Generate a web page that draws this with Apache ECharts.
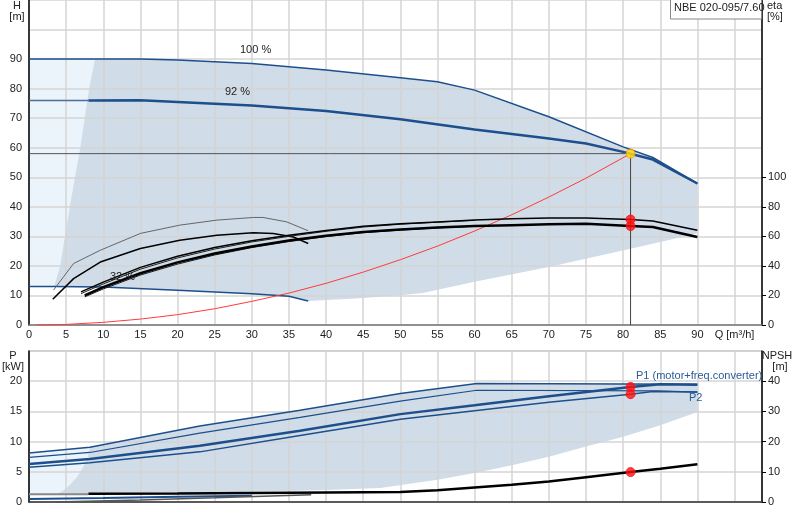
<!DOCTYPE html>
<html style="height: 100%">
<head>
<meta charset="utf-8" />
<title>NBE 020-095/7.60</title>
<script type="text/javascript" src="https://cdn.jsdelivr.net/npm/echarts@6/dist/echarts.min.js"></script>
</head>
<body style="height: 100%; margin: 0; background: #fff;">
<div id="container" style="width: 800px; height: 520px;"></div>
<script type="text/javascript">
// ---- tick labels
var qTicks = [0, 5, 10, 15, 20, 25, 30, 35, 40, 45, 50, 55, 60, 65, 70, 75, 80, 85, 90, 95];
var hTicks = [0, 10, 20, 30, 40, 50, 60, 70, 80, 90];
var etaTicks = [0, 20, 40, 60, 80, 100];
var pTicks = [0, 5, 10, 15, 20];
var npshTicks = [0, 10, 20, 30, 40];

// ---- top chart, head curves [Q, H]
var head100 = [[0, 90], [8.9, 90], [15, 90], [20, 89.7], [30, 88.5], [40, 86.3], [50, 83.7], [55, 82.3], [60, 79.5], [70, 70.5], [80, 60.3], [84, 56.7], [90, 47.9]];
var head92Low = [[0, 76], [8, 76]];
var head92 = [[8, 76], [15, 76.1], [30, 74.3], [40, 72.4], [50, 69.6], [60, 66.2], [70, 63.1], [75, 61.4], [80, 58.6], [84, 56.0], [90, 47.9]];
var headMin = [[0, 13], [3.4, 13], [10, 12.9], [20, 11.8], [30, 10.6], [35, 9.7], [37.6, 8.1]];
var sysCurve = [[1, 0], [5, 0.2], [10, 0.9], [15, 2], [20, 3.5], [25, 5.5], [30, 8], [35, 10.8], [40, 14.1], [45, 17.9], [50, 22.1], [55, 26.7], [60, 31.8], [65, 37.3], [70, 43.3], [75, 49.7], [81, 58]];
var dutyH = [[0, 58], [81, 58]];
var dutyQ = [[81, 58], [81, 0]];
var dutyPoint = [[81, 58]];

// operating range [Q, H]
var rangeLight = [[0, 13], [9, 13], [9, 90], [0, 90]];
var rangeDark = [[8.9, 90], [15, 90], [20, 89.7], [30, 88.5], [40, 86.3], [50, 83.7], [55, 82.3], [60, 79.5], [70, 70.5], [80, 60.3], [84, 56.7], [90, 47.9],
  [90, 31], [81, 25.8], [70, 19.6], [60, 14.6], [53, 10.8], [50, 10.1], [44, 9.0], [37.6, 8.1],
  [35, 9.7], [30, 10.6], [20, 11.8], [10, 12.9], [3.4, 13],
  [4.2, 20], [4.85, 30], [5.5, 40], [6.2, 50], [6.9, 60], [7.5, 70], [8.1, 80]];

// efficiency curves [Q, eta %]
var etaA = [[3.3, 23.6], [6, 41.6], [9.6, 50.6], [15, 62], [20.3, 67.6], [25.3, 71], [30.2, 72.8], [31.5, 72.8], [34.7, 69.8], [37.6, 63.8]];
var etaB = [[3.2, 17.4], [6, 31.4], [9.6, 42.6], [15, 51.8], [20.3, 57.4], [25.3, 60.8], [30.2, 62.4], [32.9, 62], [35.6, 59.6], [37.6, 55.2]];
var etaUp1 = [[7, 22.4], [10, 29], [15, 39], [20, 46.6], [25, 52.4], [30, 57], [35, 60.8], [40, 64], [45, 66.8], [50, 68.6], [55, 69.8], [60, 71], [65, 72], [70, 72.4], [75, 72.4], [81, 71.4], [84, 70.4], [90, 64.2]];
var etaUp2 = [[7, 21.2], [10, 27.8], [15, 37.8], [20, 45.4], [25, 51.4], [30, 56.2], [35, 60], [40, 63.4], [45, 66.3], [50, 68.2], [55, 69.6], [60, 70.8]];
var etaLo1 = [[7.5, 20], [10, 25.6], [15, 35], [20, 42.4], [25, 48.4], [30, 53.2], [35, 57.2], [40, 60.4], [45, 63], [50, 64.6], [55, 66], [60, 67], [65, 67.6], [70, 68.2], [75, 68.6], [81, 67], [84, 66.4], [90, 59.6]];
var etaLo2 = [[7.5, 19], [10, 24.4], [15, 33.8], [20, 41.2], [25, 47.4], [30, 52.4], [35, 56.5], [40, 59.8], [45, 62.5], [50, 64.2], [55, 65.7], [60, 66.8]];
var etaDuty = [[81, 71.4], [81, 67]];

// ---- bottom chart, power [Q, P kW]
var pMax1 = [[0, 8.1], [8.2, 9.06], [23, 12.6], [36.5, 15.2], [50, 17.96], [60.3, 19.6], [90, 19.5]];
var pMax2 = [[0, 7.4], [8.2, 8.2], [23, 11.4], [36.5, 14.0], [50, 16.7], [60.3, 18.5], [84.5, 18.4], [90, 18.2]];
var p1 = [[0, 6.3], [8.2, 7.13], [23, 9.3], [36.5, 11.8], [50, 14.55], [60, 16.0], [70, 17.5], [81, 19.05], [85, 19.5], [90, 19.4]];
var p2 = [[0, 5.77], [8.2, 6.5], [23, 8.3], [36.5, 11.0], [50, 13.7], [60, 15.1], [70, 16.5], [81, 17.85], [84, 18.3], [90, 18.2]];
var pLowGrey = [[0, 1.3], [8, 1.3]];
var pLowBlue = [[0, 0.5], [10, 0.65], [20, 0.85], [30, 1.05]];
var pLowDark = [[3.5, 0], [15, 0.35], [25, 0.7], [38, 1.2]];
var pDuty = [[81, 19.05], [81, 17.85]];
var pLight = [[0, 1.3], [8.2, 1.3], [8.2, 9.06], [0, 8.1]];
var pDark = [[8.2, 9.06], [23, 12.6], [36.5, 15.2], [50, 17.96], [60.3, 19.6], [90, 19.5],
  [90, 14.9], [85, 12.7], [80, 10.8], [75, 9.2], [70, 7.5], [65, 6.1], [60, 4.8], [55, 3.7], [47.3, 2.3], [40, 2.0], [30, 1.7], [20, 1.45], [10, 1.3], [3.7, 1.3],
  [4.5, 1.8], [5.5, 2.8], [6.5, 4.2], [7.3, 5.8], [7.9, 7.3]];

// NPSH [Q, m]
var npsh = [[8, 2.7], [20, 2.85], [30, 3.0], [40, 3.15], [50, 3.3], [55, 3.9], [60, 4.8], [65, 5.7], [70, 6.8], [75, 8.2], [81, 9.9], [85, 11.0], [90, 12.5]];
var npshDuty = [[81, 9.9]];

var BLUE = '#1d4f8c';
var FONT = 'Liberation Sans, Arial, sans-serif';

function poly(pts, color, xi, yi) {
  return {
    type: 'custom', xAxisIndex: xi, yAxisIndex: yi, z: -1, silent: true, data: [[0, 0]],
    renderItem: function (params, api) {
      return { type: 'polygon', shape: { points: pts.map(function (p) { return api.coord(p); }) }, style: { fill: color } };
    }
  };
}
function line(data, color, width, xi, yi) {
  return { type: 'line', data: data, xAxisIndex: xi, yAxisIndex: yi, showSymbol: false, silent: true,
    lineStyle: { color: color, width: width }, animation: false };
}
function dots(data, color, xi, yi, border) {
  return { type: 'scatter', data: data, xAxisIndex: xi, yAxisIndex: yi, symbolSize: 9, silent: true, z: 5,
    itemStyle: { color: color, borderColor: border || color, borderWidth: 1 } };
}
function txt(s, x, y, align, color) {
  return { type: 'text', z: 11, style: { text: s, x: x, y: y, align: align || 'left', verticalAlign: 'middle',
    fontSize: 11, fill: color || '#222', fontFamily: FONT } };
}

var gridLine = { show: true, lineStyle: { color: '#d4d4d4', width: 1.5 } };
var labelStyle = { color: '#222', fontSize: 11, fontFamily: FONT };

var myChart = echarts.init(document.getElementById('container'), null, { renderer: 'canvas' });
var option = {
  animation: false,
  grid: [
    { left: 29, right: 38, top: 0, bottom: 195 },
    { left: 29, right: 38, top: 351, bottom: 18, show: true, borderColor: '#999', borderWidth: 1 }
  ],
  xAxis: [
    { type: 'value', gridIndex: 0, min: 0, max: 98.7, interval: 5,
      axisLine: { lineStyle: { color: '#777', width: 1.5 } }, axisTick: { show: false },
      splitLine: gridLine,
      axisLabel: Object.assign({ margin: 4, customValues: qTicks,
        formatter: function (v) { return v === 95 ? 'Q [m³/h]' : String(v); } }, labelStyle) },
    { type: 'value', gridIndex: 1, min: 0, max: 98.7, interval: 5,
      axisLine: { lineStyle: { color: '#333', width: 1.5 } }, axisTick: { show: false },
      splitLine: gridLine, axisLabel: { show: false } }
  ],
  yAxis: [
    { type: 'value', gridIndex: 0, min: 0, max: 110, interval: 10,
      axisLine: { show: true, lineStyle: { color: '#000', width: 1.5 } }, axisTick: { show: false },
      splitLine: gridLine, axisLabel: Object.assign({ margin: 7, customValues: hTicks }, labelStyle) },
    { type: 'value', gridIndex: 0, min: 0, max: 220, interval: 20, position: 'right',
      axisLine: { show: true, lineStyle: { color: '#000', width: 1.5 } },
      axisTick: { show: true, length: 4, customValues: etaTicks, lineStyle: { color: '#000' } },
      splitLine: { show: false }, axisLabel: Object.assign({ margin: 6, customValues: etaTicks }, labelStyle) },
    { type: 'value', gridIndex: 1, min: 0, max: 25, interval: 5,
      axisLine: { show: true, lineStyle: { color: '#000', width: 1.5 } }, axisTick: { show: false },
      splitLine: gridLine, axisLabel: Object.assign({ margin: 7, customValues: pTicks }, labelStyle) },
    { type: 'value', gridIndex: 1, min: 0, max: 50, interval: 10, position: 'right',
      axisLine: { show: true, lineStyle: { color: '#000', width: 1.5 } },
      axisTick: { show: true, length: 4, customValues: npshTicks, lineStyle: { color: '#000' } },
      splitLine: { show: false }, axisLabel: Object.assign({ margin: 6, customValues: npshTicks }, labelStyle) }
  ],
  series: [
    poly(rangeLight, '#ebf3fb', 0, 0),
    poly(rangeDark, '#d0dce7', 0, 0),
    line(head100, BLUE, 1.5, 0, 0),
    line(head92Low, '#4a6f9c', 1.5, 0, 0),
    line(head92, BLUE, 2.5, 0, 0),
    line(headMin, BLUE, 1.5, 0, 0),
    line(dutyH, '#555', 1, 0, 0),
    line(dutyQ, '#444', 1, 0, 0),
    line(sysCurve, '#ff3b3b', 1, 0, 0),
    line(etaA, '#666', 1, 0, 1),
    line(etaB, '#000', 1.5, 0, 1),
    line(etaUp2, '#222', 1, 0, 1),
    line(etaUp1, '#000', 1.5, 0, 1),
    line(etaLo2, '#222', 1, 0, 1),
    line(etaLo1, '#000', 2.5, 0, 1),
    dots(etaDuty, '#ff1010', 0, 1),
    dots(dutyPoint, '#ffe000', 0, 0, '#ff8c00'),

    poly(pLight, '#ebf3fb', 1, 2),
    poly(pDark, '#d0dce7', 1, 2),
    line(pMax1, BLUE, 1.5, 1, 2),
    line(pMax2, BLUE, 1.2, 1, 2),
    line(p1, BLUE, 2.5, 1, 2),
    line(p2, BLUE, 1.5, 1, 2),
    line(pLowGrey, '#888', 2, 1, 2),
    line(pLowBlue, BLUE, 2, 1, 2),
    line(pLowDark, '#555', 1.5, 1, 2),
    line(npsh, '#000', 2.5, 1, 3),
    dots(pDuty, '#ff1010', 1, 2),
    dots(npshDuty, '#ff1010', 1, 3)
  ],
  graphic: [
    txt('H', 17, 6, 'center'),
    txt('[m]', 17, 17, 'center'),
    txt('eta', 767, 6),
    txt('[%]', 767, 17),
    txt('P', 13, 356, 'center'),
    txt('[kW]', 13, 367, 'center'),
    txt('NPSH', 777, 356, 'center'),
    txt('[m]', 780, 367, 'center'),
    { type: 'rect', z: 10, shape: { x: 670.5, y: -1, width: 91, height: 20 }, style: { fill: '#fff', stroke: '#888', lineWidth: 1 } },
    txt('NBE 020-095/7.60', 674, 8),
    txt('100 %', 240, 50),
    txt('92 %', 225, 92),
    txt('32 %', 110, 277),
    txt('P1 (motor+freq.converter)', 636, 376, 'left', '#2a5b9a'),
    txt('P2', 689, 398, 'left', '#2a5b9a')
  ]
};
myChart.setOption(option);
</script>
</body>
</html>
